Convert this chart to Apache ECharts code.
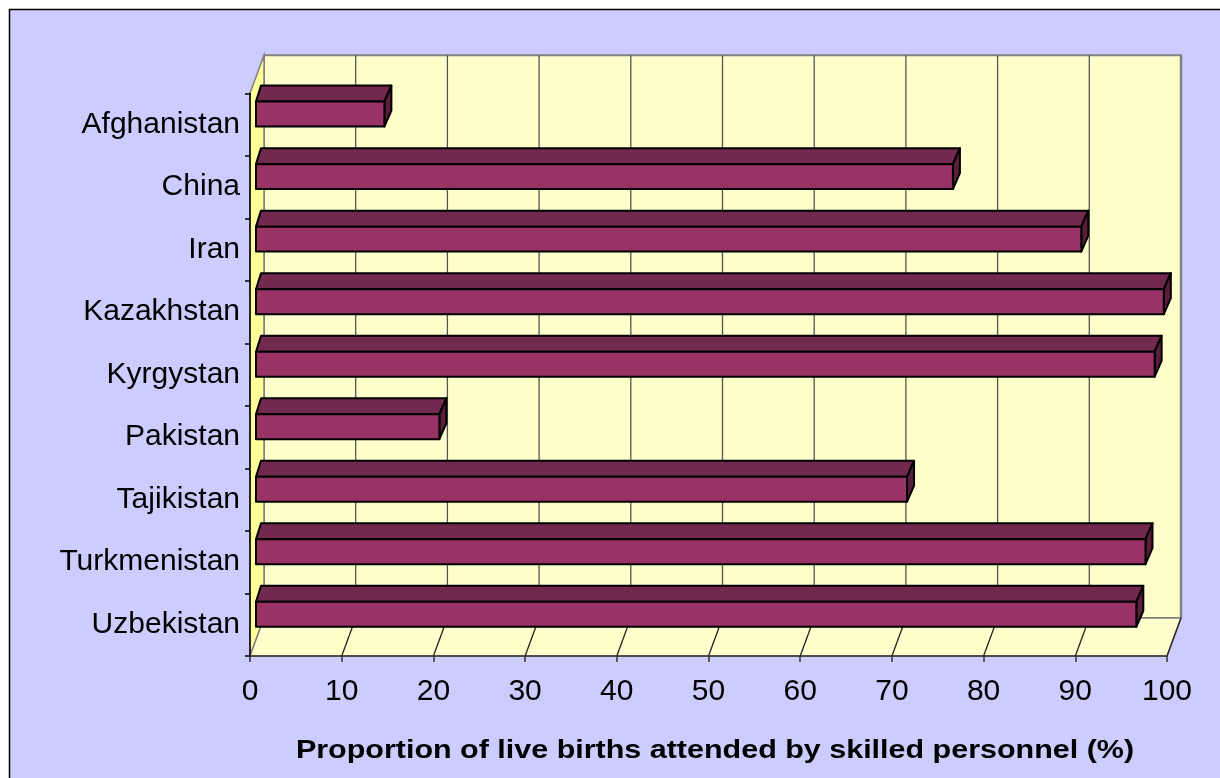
<!DOCTYPE html>
<html><head><meta charset="utf-8">
<script src="https://cdn.jsdelivr.net/npm/echarts@6/dist/echarts.min.js"></script>
<style>html,body{margin:0;padding:0;background:#fff;} #c{width:1220px;height:778px;}</style>
</head><body><div id="c"></div>
<script>
const categories = ['Afghanistan','China','Iran','Kazakhstan','Kyrgystan','Pakistan','Tajikistan','Turkmenistan','Uzbekistan'];
const values = [14, 76, 90, 99, 98, 20, 71, 97, 96];
const xMin = 0, xMax = 100, xStep = 10;
const axisTitle = 'Proportion of live births attended by skilled personnel (%)';

const DEPTH = [14, -38];      // wall depth offset
const FRONT = [6, 0];         // bar front-face x shift
const BAR_TOP = [7, -16];     // bar top-face offset

const chart = echarts.init(document.getElementById('c'));

function wallsRender(params, api) {
  const cs = params.coordSys;
  const x0 = cs.x, x1 = cs.x + cs.width, yT = cs.y, yB = cs.y + cs.height;
  const dx = DEPTH[0], dy = DEPTH[1];
  const ch = [];
  ch.push({type:'polygon', shape:{points:[[x0+dx,yT+dy],[x1+dx,yT+dy],[x1+dx,yB+dy],[x0+dx,yB+dy]]},
    style:{fill:'#FFFFCC', stroke:'#808080', lineWidth:2}});
  ch.push({type:'polygon', shape:{points:[[x0,yT],[x0+dx,yT+dy],[x0+dx,yB+dy],[x0,yB]]},
    style:{fill:'#FFFF99', stroke:'#808080', lineWidth:1.5}});
  ch.push({type:'polygon', shape:{points:[[x0,yB],[x1,yB],[x1+dx,yB+dy],[x0+dx,yB+dy]]},
    style:{fill:'#FFFFCC', stroke:'#808080', lineWidth:1.5}});
  for (let v = xMin + xStep; v <= xMax; v += xStep) {
    const px = api.coord([v, 0])[0];
    if (v < xMax) {
      ch.push({type:'line', shape:{x1:px+dx, y1:yT+dy, x2:px+dx, y2:yB+dy}, style:{stroke:'#555', lineWidth:1.3}});
    }
    ch.push({type:'line', shape:{x1:px, y1:yB, x2:px+dx, y2:yB+dy}, style:{stroke:'#222', lineWidth:1.3}});
  }
  ch.push({type:'line', shape:{x1:x1+dx, y1:yT+dy, x2:x1+dx, y2:yB+dy}, style:{stroke:'#808080', lineWidth:2.5}});
  return {type:'group', children: ch};
}

function barRender(params, api) {
  const cat = api.value(1);
  const p0 = api.coord([xMin, cat]);
  const p1 = api.coord([api.value(0), cat]);
  const band = api.size([0, 1])[1];
  const c = p0[1];
  const top = c - band * 0.367, bot = c + band * 0.032;
  const xa = p0[0] + FRONT[0], xb = p1[0] + FRONT[0];
  const ox = BAR_TOP[0], oy = BAR_TOP[1];
  const st = {stroke:'#000', lineWidth:2, lineJoin:'round'};
  return {type:'group', children:[
    {type:'polygon', shape:{points:[[xa,top],[xb,top],[xb+ox,top+oy],[xa+ox-2,top+oy]]}, style:Object.assign({fill:'#72294E'}, st)},
    {type:'polygon', shape:{points:[[xb,top],[xb+ox,top+oy],[xb+ox,bot+oy],[xb,bot]]}, style:Object.assign({fill:'#5A1E3C'}, st)},
    {type:'rect', shape:{x:xa, y:top, width:xb-xa, height:bot-top}, style:Object.assign({fill:'#993366'}, st)}
  ]};
}

chart.setOption({
  backgroundColor: '#ffffff',
  animation: false,
  graphic: [
    {type:'rect', z:-100, silent:true, shape:{x:9.5, y:9.5, width:1230, height:790},
      style:{fill:'#CCCCFF', stroke:'#000', lineWidth:1.5}},
    {type:'text', x:715, y:751, scaleX:1.15, z:100,
      style:{text:axisTitle, fill:'#000', font:'bold 26.5px "Liberation Sans", Arial, sans-serif', align:'center', verticalAlign:'middle'}}
  ],
  grid: {left:250, top:93.3, width:917, height:562.7, containLabel:false},
  xAxis: {
    type:'value', min:xMin, max:xMax, interval:xStep, z:10,
    axisLine:{show:true, lineStyle:{color:'#333', width:1.5}},
    axisTick:{show:true, length:6, lineStyle:{color:'#333', width:1.5}},
    splitLine:{show:false},
    axisLabel:{color:'#000', fontSize:30, fontFamily:'"Liberation Sans", Arial, sans-serif', margin:21}
  },
  yAxis: {
    type:'category', data:categories, inverse:true, z:10,
    axisLine:{show:true, lineStyle:{color:'#000', width:1.5}},
    axisTick:{show:true, length:5, lineStyle:{color:'#000', width:1.5}},
    axisLabel:{color:'#000', fontSize:30, fontFamily:'"Liberation Sans", Arial, sans-serif', margin:10}
  },
  series: [
    {type:'custom', name:'walls', z:1, silent:true, renderItem:wallsRender, data:[[0,0]], encode:{x:0,y:1}, clip:false},
    {type:'custom', name:'bars', z:3, renderItem:barRender, clip:false,
      data: values.map((v,i)=>[v,i]), encode:{x:0,y:1}}
  ]
});
</script></body></html>
